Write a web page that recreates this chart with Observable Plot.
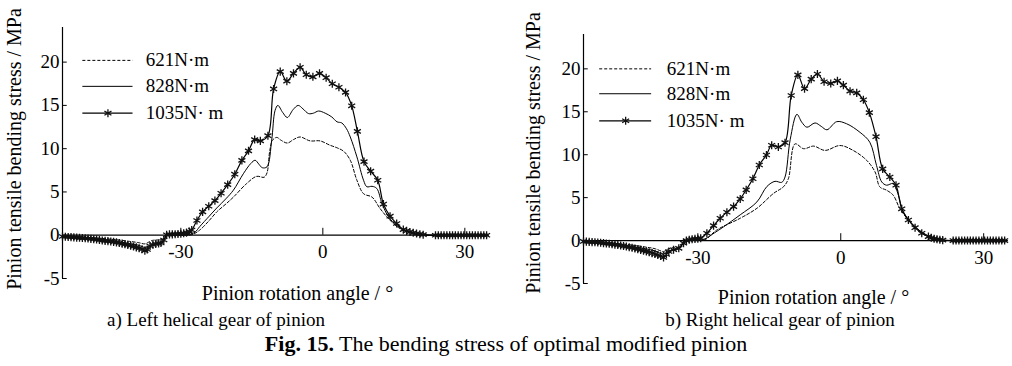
<!DOCTYPE html>
<html>
<head>
<meta charset="utf-8">
<script src="https://cdn.jsdelivr.net/npm/d3@7"></script>
<script src="https://cdn.jsdelivr.net/npm/@observablehq/plot@0.6"></script>
<style>
  html, body { margin: 0; padding: 0; background: #fff; }
  #fig { position: relative; width: 1012px; height: 366px; overflow: hidden;
         font-family: "Liberation Serif", "Times New Roman", serif; color: #000; }
  #fig svg, #fig svg text { font-family: "Liberation Serif", "Times New Roman", serif !important; }
  .panel { position: absolute; top: 0; }
  .cap { position: absolute; transform: translate(-50%, -50%); white-space: nowrap; }
</style>
</head>
<body>
<div id="fig">
  <div class="panel" id="left" style="left:0px"></div>
  <div class="panel" id="right" style="left:520px"></div>
  <div class="cap" style="left:216px; top:320px; font-size:19px">a) Left helical gear of pinion</div>
  <div class="cap" style="left:780px; top:320px; font-size:19px">b) Right helical gear of pinion</div>
  <div class="cap" style="left:506px; top:344px; font-size:22px"><b>Fig. 15.</b> The bending stress of optimal modified pinion</div>
</div>
<script>
// Tick values and labels
const xTicks = [-30, 0, 30];
const yTicks = [-5, 0, 5, 10, 15, 20];
const loadLabels = ["621N·m", "828N·m", "1035N· m"];
const yTitle = "Pinion tensile bending stress / MPa";
const xTitle = "Pinion rotation angle / °";

// ---- a) Left helical gear: rotation angle (deg) and stress (MPa) ----
const leftAngle621 = [-55, -50, -45, -41, -39, -37.6, -36.8, -36, -35, -34, -33.4, -33, -29, -27.5, -26, -24, -22.4, -20.5, -18.9, -16.1, -14, -12.4, -11.8, -11.2, -10.6, -9.7, -8.9, -7.5, -6.2, -4.8, -2.7, -0.6, 1.5, 3.0, 4.4, 5.8, 7.2, 8.6, 10.4, 12.1, 14.2, 16.3, 19.2, 22, 35];
const leftStress621 = [-0.1, -0.25, -0.45, -0.7, -0.85, -1.0, -0.8, -0.6, -0.55, -0.5, -0.3, -0.05, 0.0, 0.1, 0.6, 1.7, 2.7, 3.6, 4.4, 5.97, 6.8, 6.7, 7.2, 9.8, 11.0, 11.3, 11.0, 10.65, 11.05, 11.35, 10.9, 10.9, 10.4, 10.1, 9.7, 8.66, 6.35, 4.8, 4.4, 3.08, 1.73, 0.77, 0.2, 0, 0];

const leftAngle828 = [-55, -50, -45, -41, -39, -37.6, -36.8, -36, -35, -34, -33.4, -33, -31, -29, -28, -27, -26, -24, -22.4, -20.5, -18.9, -16.8, -15.2, -14.3, -13.5, -12.8, -11.8, -10.8, -10.1, -9.5, -8.5, -7.5, -6.3, -5.2, -4.2, -3.0, -2.0, -0.9, 0.5, 1.9, 3.0, 4.0, 5.0, 5.8, 7.2, 8.6, 9.3, 10.4, 11.4, 12.5, 13.9, 15.6, 17.8, 19.9, 22, 35];
const leftStress828 = [-0.15, -0.35, -0.6, -0.95, -1.15, -1.4, -1.25, -1.0, -0.95, -0.9, -0.5, -0.05, 0.0, 0.05, 0.12, 0.35, 1.0, 2.2, 3.15, 4.2, 5.2, 7.1, 8.3, 8.66, 8.2, 7.8, 7.9, 11.0, 14.4, 15.0, 14.2, 13.6, 14.5, 15.0, 14.6, 14.05, 14.1, 14.35, 14.1, 13.66, 13.1, 12.97, 12.3, 11.35, 9.05, 6.35, 5.6, 5.65, 5.4, 3.66, 2.1, 1.15, 0.4, 0.08, 0, 0];

const leftAngle1035 = [-55, -54.4, -53.8, -53.2, -52.6, -52, -51.4, -50.8, -50.2, -49.6, -49, -48.4, -47.8, -47.2, -46.6, -46, -45.4, -44.8, -44.2, -43.6, -43, -42.4, -41.8, -41.2, -40.6, -40, -39.4, -38.8, -38.2, -37.6,
  -37.1, -36.5, -35.9, -35.3, -34.7, -34.2, -33.6, -33.0,
  -32.4, -31.8, -31.2, -30.6, -30.0, -29.4, -28.8, -28.2,
  -27.7, -26.6, -25.4, -24.1, -22.8, -21.5, -20.1, -18.6, -17.1, -15.7, -14.4, -13.2, -11.6, -10.4,
  -9.0, -7.6, -6.2, -4.8, -3.5, -2.1, -0.7, 0.7, 2.0, 3.4, 4.8, 6.1, 7.3, 8.7, 10.1, 11.6, 12.8, 14.2, 15.6, 17.0,
  17.7, 18.4, 19.1, 19.8, 20.5, 21.2,
  23.8, 24.4, 25.0, 25.6, 26.2, 26.8, 27.4, 28.0, 28.6, 29.2, 29.8, 30.4, 31.0, 31.6, 32.2, 32.8, 33.4, 34.0, 34.6];
const leftStress1035 = [-0.15, -0.18, -0.2, -0.22, -0.25, -0.28, -0.3, -0.33, -0.35, -0.38, -0.42, -0.46, -0.5, -0.55, -0.6, -0.65, -0.68, -0.72, -0.77, -0.83, -0.9, -0.97, -1.05, -1.12, -1.2, -1.3, -1.4, -1.5, -1.62, -1.78,
  -1.65, -1.25, -1.1, -1.0, -0.95, -0.9, -0.55, 0.05,
  0.1, 0.1, 0.12, 0.15, 0.18, 0.22, 0.3, 0.42,
  0.6, 1.7, 2.7, 3.35, 4.0, 4.85, 5.85, 7.05, 8.65, 9.75, 11.05, 10.9, 11.5, 16.9,
  18.9, 17.8, 18.7, 19.4, 18.55, 18.3, 18.7, 18.2, 17.5, 17.1, 16.5, 14.95, 12.0, 8.5, 7.4, 6.35, 3.6, 2.2, 1.35, 0.65,
  0.5, 0.38, 0.28, 0.2, 0.12, 0.06,
  0, 0, 0, 0, 0, 0, 0, 0, 0, 0, 0, 0, 0, 0, 0, 0, 0, 0, 0];

// ---- b) Right helical gear ----
const rightAngle621 = [-54, -50, -45, -41, -39, -37.2, -36.3, -35, -34, -33.3, -32.6, -30, -28.5, -26, -21.1, -17.6, -14.1, -12.0, -11.0, -9.6, -7.8, -5.7, -3.3, -0.15, 2.6, 5.45, 7.2, 8.2, 9.6, 11.0, 12.4, 14.5, 17.3, 20, 23, 35];
const rightStress621 = [-0.08, -0.22, -0.45, -0.75, -0.95, -1.27, -1.0, -0.8, -0.75, -0.4, 0.0, 0.0, 0.1, 1.24, 2.6, 3.76, 5.5, 6.28, 7.2, 11.26, 10.7, 11.0, 10.5, 11.07, 10.5, 9.34, 7.99, 6.25, 5.87, 5.29, 3.74, 2.2, 0.85, 0.15, 0, 0];

const rightAngle828 = [-54, -50, -45, -41, -39, -37.2, -36.3, -35, -34, -33.3, -32.6, -30, -28.5, -26.5, -24.6, -21.1, -17.6, -15.5, -13.8, -12.4, -11.7, -10.6, -9.2, -8.2, -7.1, -5.4, -4.1, -2.9, -0.85, 1.25, 4.05, 6.1, 7.5, 8.6, 9.6, 11.0, 12.1, 13.1, 15.2, 18.0, 21, 23, 35];
const rightStress828 = [-0.1, -0.3, -0.6, -0.95, -1.2, -1.55, -1.3, -1.0, -0.95, -0.5, 0.0, 0.05, 0.2, 0.9, 1.6, 3.0, 4.5, 6.3, 6.9, 6.78, 7.4, 11.8, 14.7, 13.8, 13.2, 13.7, 13.3, 12.9, 13.85, 13.6, 12.6, 11.45, 8.76, 6.83, 6.45, 6.63, 5.29, 3.36, 1.82, 0.66, 0.1, 0, 0];

const rightAngle1035 = [-54, -53.4, -52.8, -52.2, -51.6, -51, -50.4, -49.8, -49.2, -48.6, -48, -47.4, -46.8, -46.2, -45.6, -45, -44.4, -43.8, -43.2, -42.6, -42, -41.4, -40.8, -40.2, -39.6, -39, -38.4, -37.8, -37.2,
  -36.6, -36.1, -35.1, -34.0, -33.0, -32.4,
  -31.8, -31.2, -30.6, -30.0, -29.4,
  -28.1, -26.7, -25.3, -23.9, -22.5, -21.1, -19.85, -18.45, -17.1, -15.6, -14.5, -13.1, -11.7, -10.4,
  -9.0, -7.6, -6.2, -4.9, -3.5, -2.1, -0.7, 0.55, 1.95, 3.35, 4.75, 6.0, 7.4, 8.8, 10.3, 11.6, 12.8, 14.2, 15.6, 17.0, 18.4,
  19.0, 19.6, 20.2, 20.8, 21.4,
  23.6, 24.2, 24.8, 25.4, 26.0, 26.6, 27.2, 27.8, 28.4, 29.0, 29.6, 30.2, 30.8, 31.4, 32.0, 32.6, 33.2, 33.8, 34.4];
const rightStress1035 = [-0.1, -0.12, -0.15, -0.18, -0.2, -0.23, -0.26, -0.3, -0.34, -0.38, -0.42, -0.47, -0.52, -0.58, -0.64, -0.7, -0.77, -0.84, -0.92, -1.0, -1.08, -1.17, -1.26, -1.36, -1.46, -1.57, -1.68, -1.8, -1.97,
  -1.6, -1.27, -1.07, -0.9, -0.3, 0.0,
  0.1, 0.15, 0.2, 0.22, 0.28,
  0.85, 1.74, 2.6, 3.3, 3.95, 4.85, 5.9, 7.2, 8.8, 9.97, 11.1, 10.9, 11.4, 16.9,
  19.3, 17.7, 18.8, 19.4, 18.5, 18.3, 18.6, 18.1, 17.4, 17.2, 16.4, 14.9, 12.1, 8.35, 7.4, 6.45, 3.7, 2.4, 1.5, 0.85, 0.46,
  0.32, 0.22, 0.15, 0.1, 0.05,
  0, 0, 0, 0, 0, 0, 0, 0, 0, 0, 0, 0, 0, 0, 0, 0, 0, 0, 0];

const pts = (xs, ys) => xs.map((x, i) => ({x, y: ys[i]}));
const serif = "'Liberation Serif', 'Times New Roman', serif";

function panel(cfg) {
  const [x0, x1] = cfg.xDomain;
  const yTop = cfg.yTop;
  const s621 = pts(cfg.a621, cfg.s621);
  const s828 = pts(cfg.a828, cfg.s828);
  const s1035 = pts(cfg.a1035, cfg.s1035);
  const lg = cfg.legend;
  const legendRows = loadLabels.map((t, i) => ({t, y: lg.ys[i]}));
  const star = {symbol: "asterisk", r: 3.8, stroke: "#111", strokeWidth: 1.3};
  return Plot.plot({
    width: cfg.width,
    height: cfg.height,
    marginLeft: cfg.marginLeft,
    marginRight: cfg.marginRight,
    marginTop: cfg.marginTop,
    marginBottom: cfg.marginBottom,
    x: {domain: [x0, x1], axis: null},
    y: {domain: [-5, yTop], axis: null},
    style: {fontFamily: serif, fontSize: "19px", color: "black", background: "transparent", overflow: "visible"},
    marks: [
      // stress axis line and the zero line used as angle axis
      Plot.ruleX([x0], {y1: -5, y2: yTop, stroke: "black", strokeWidth: 1.2}),
      Plot.ruleY([0], {x1: x0, x2: x1, stroke: "black", strokeWidth: 1.2}),
      Plot.ruleY(yTicks, {x1: x0, x2: x0 + 1, stroke: "black"}),
      Plot.axisY({ticks: yTicks, tickSize: 0, tickPadding: 3, label: null, tickFormat: d => String(d), fontSize: 19, fontFamily: serif}),
      Plot.ruleX(xTicks, {y1: 0, y2: 0.8, stroke: "black"}),
      Plot.text(xTicks, {x: d => d, y: 0, text: d => String(d), dy: cfg.xLabelDy, fontSize: 19, fontFamily: serif}),
      Plot.text([yTitle], {frameAnchor: "left", text: d => d, rotate: -90, textAnchor: "middle", lineAnchor: "middle",
        dx: cfg.yTitleDx, dy: cfg.yTitleDy, fontSize: 20, fontFamily: serif}),
      Plot.text([xTitle], {frameAnchor: "bottom", text: d => d, textAnchor: "middle", lineAnchor: "middle",
        dx: cfg.xTitleDx, dy: cfg.xTitleDy, fontSize: 20, fontFamily: serif}),
      // load cases
      Plot.line(s621, {x: "x", y: "y", curve: "catmull-rom", stroke: "black", strokeWidth: 1, strokeDasharray: "3,2"}),
      Plot.line(s828, {x: "x", y: "y", curve: "catmull-rom", stroke: "black", strokeWidth: 1}),
      Plot.line(s1035, {x: "x", y: "y", curve: "catmull-rom", stroke: "black", strokeWidth: 1.2}),
      Plot.dot(s1035, {x: "x", y: "y", ...star}),
      // legend
      Plot.ruleY([legendRows[0]], {y: "y", x1: lg.x1, x2: lg.x2, stroke: "black", strokeDasharray: "3,2"}),
      Plot.ruleY([legendRows[1]], {y: "y", x1: lg.x1, x2: lg.x2, stroke: "black"}),
      Plot.ruleY([legendRows[2]], {y: "y", x1: lg.x1, x2: lg.x2, stroke: "black", strokeWidth: 1.2}),
      Plot.dot([legendRows[2]], {x: (lg.x1 + lg.x2) / 2, y: "y", ...star}),
      Plot.text(legendRows, {x: lg.tx, y: "y", text: "t", textAnchor: "start", fontSize: 19, fontFamily: serif})
    ]
  });
}

document.getElementById("left").append(panel({
  xDomain: [-55, 35], yTop: 24,
  width: 498, height: 305, marginLeft: 62, marginRight: 10, marginTop: 27, marginBottom: 27,
  a621: leftAngle621, s621: leftStress621,
  a828: leftAngle828, s828: leftStress828,
  a1035: leftAngle1035, s1035: leftStress1035,
  xLabelDy: 17, yTitleDx: -48, yTitleDy: -4, xTitleDx: 22, xTitleDy: 15,
  legend: {x1: -50.7, x2: -40.1, tx: -37.4, ys: [20.2, 17.2, 14.1]}
}));

document.getElementById("right").append(panel({
  xDomain: [-54, 35], yTop: 24,
  width: 492, height: 310, marginLeft: 63, marginRight: 5, marginTop: 34, marginBottom: 27,
  a621: rightAngle621, s621: rightStress621,
  a828: rightAngle828, s828: rightStress828,
  a1035: rightAngle1035, s1035: rightStress1035,
  xLabelDy: 17, yTitleDx: -50, yTitleDy: -6, xTitleDx: 18, xTitleDy: 14,
  legend: {x1: -50.6, x2: -39.7, tx: -36.5, ys: [20.0, 17.1, 13.95]}
}));
</script>
</body>
</html>
